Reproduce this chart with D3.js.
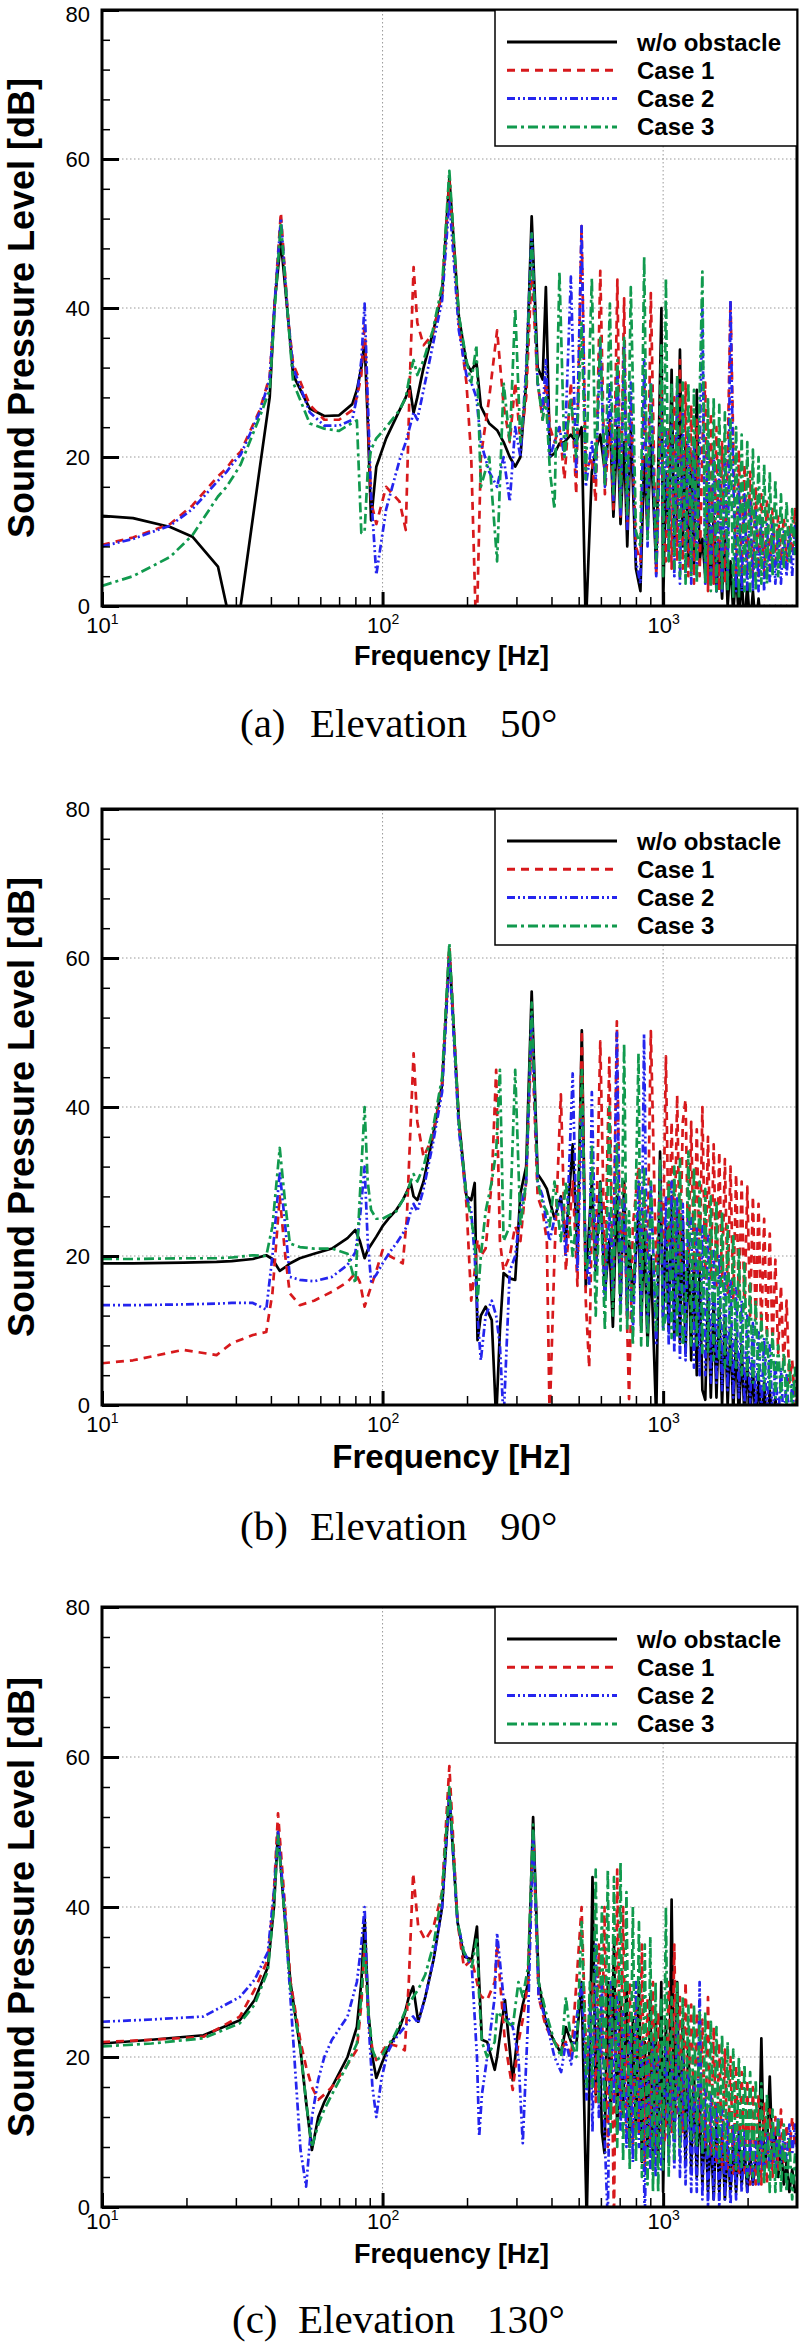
<!DOCTYPE html>
<html>
<head>
<meta charset="utf-8">
<script src="https://cdn.jsdelivr.net/npm/d3@7"></script>
<style>
  body { margin: 0; background: #fff; }
  svg { display: block; }
</style>
</head>
<body>
<div id="chart"></div>
<script>
// ---------- data (Hz, dB) ----------
const hfFreq = [1000, 1023, 1047, 1072, 1096, 1122, 1148, 1175, 1202, 1230,
  1259, 1288, 1318, 1349, 1380, 1413, 1445, 1479, 1514, 1549,
  1585, 1622, 1660, 1698, 1738, 1778, 1820, 1862, 1905, 1950,
  1995, 2042, 2089, 2138, 2188, 2239, 2291, 2344, 2399, 2455,
  2512, 2570, 2630, 2692, 2754, 2818, 2884, 2951, 3000];

// (a) elevation 50
const freqA = [10, 12.9, 17.5, 21, 25.9, 27.8, 29.5, 31.2, 36.5, 39.6,
  41.3, 43.4, 46, 48, 55, 62, 70, 78, 81, 84,
  86.3, 88.5, 91, 95, 103, 115, 121, 125, 129, 133,
  140, 151, 163, 173, 187, 199, 207, 216, 224, 240,
  256, 270, 284, 297, 310, 325, 340, 357, 372, 382,
  395, 410, 427, 445, 469, 490, 512, 530, 557, 575,
  597, 620, 646, 665, 687, 705, 726, 745, 767, 800,
  830, 856, 880, 904, 945, 986].concat(hfFreq);
const noneA = [12.1, 11.8, 10.6, 9.3, 5.3, 0, -8, 0, 18.5, 28,
  41, 49, 38.8, 31, 26.5, 25.5, 25.6, 27.1, 29, 32,
  35.5, 25, 11.5, 18.7, 22.5, 26.3, 28, 29.5, 25.9, 28,
  32, 36.6, 42, 57.5, 38.9, 32.6, 31.5, 32.8, 26.8, 24.5,
  23.6, 22, 20, 18.7, 20, 30, 52.3, 32, 30.4, 42.8,
  20, 20.5, 21.8, 22, 23, 22, 24, -3, 18, 21,
  23, 18, 25, 12, 24, 11, 22, 8, 24, 5,
  2, 20, 10, 22, 5, 40].concat([
  0, 18, 10, 31.7, 9, 12, 34.4, 8, 22, 6,
  20, 5, 29, 6, 9, 4, 14, 3, 12, 2,
  8, 1, 10, 0, 6, -1, 5, -2, 4, -3,
  3, -3, 2, -3, 1, -3, 0, -3, 0, -3,
  0, -3, 0, -3, 0, -3, 0, -3, -3]);
const case1A = [8.2, 9.2, 11, 13.5, 17.4, 18.5, 19.8, 20.7, 26.3, 30.8,
  41, 52.8, 38.8, 32.5, 27, 25, 25, 26.3, 28, 31,
  38, 26, 14, 11, 16, 14, 10.2, 30, 45.5, 38,
  35, 36.5, 42, 57, 38, 30, 20, -5, 20, 28,
  37, 27, 22, 30, 22, 28, 45, 30, 25, 30,
  24, 22, 24, 17, 30, 15, 51, 18, 20, 14,
  45, 15, 25, 13, 43.8, 12, 41.3, 10, 28, 8,
  6, 30, 10, 42, 4, 30].concat([
  10, 6, 24, 5, 28, 6, 33, 5, 30, 4,
  27, 3, 25, 4, 22, 30, 2, 26, 3, 24,
  2, 22, 3, 20, 41, 22, 4, 21, 4, 19,
  4, 18, 4, 16, 4, 15, 4, 14, 5, 13,
  5, 12, 6, 12, 6, 11, 7, 13, 8]);
const case2A = [8.0, 9, 10.8, 13, 16.8, 18, 19.3, 20.3, 26, 30.5,
  41, 52, 38.8, 32, 26, 24.2, 24.2, 25, 28, 33,
  40.6, 28, 15, 4.2, 13, 19.6, 22, 24, 26, 25,
  29, 35, 41, 54.5, 37, 31, 30, 28, 22, 18,
  16, 20, 14, 24, 20, 32, 50, 30, 26, 33,
  20, 22, 24, 20, 44.2, 18, 51, 16, 22, 17,
  35, 16, 30, 14, 32, 12, 35, 10, 30, 6,
  3, 33, 8, 30, 4, 28].concat([
  8, 24, 6, 26, 4, 30, 3, 26, 4, 24,
  3, 22, 4, 20, 40, 3, 22, 3, 20, 2,
  19, 2, 20, 3, 41, 17, 2, 16, 2, 15,
  2, 14, 2, 13, 2, 12, 2, 11, 3, 11,
  3, 10, 3, 10, 4, 10, 4, 11, 7]);
const case3A = [2.7, 4, 6.6, 9.5, 14.7, 16, 17.5, 19, 25.4, 29,
  40, 51.5, 38.8, 30, 24.5, 23.8, 23.5, 24.6, 24.9, 9.8,
  10, 18, 21, 22.5, 24, 26.3, 28, 31, 33, 31,
  33, 37, 43, 58.4, 39, 33, 30, 35, 16, 20,
  6, 30, 22, 40, 22, 30, 50, 30, 25, 28,
  18, 13, 44.9, 20, 28, 20, 38, 17, 44, 18,
  36, 16, 40.6, 15, 33, 13, 36, 12, 42.8, 10,
  8, 46.9, 9, 30, 6, 35].concat([
  4, 44, 6, 30, 5, 31, 4, 30, 3, 30,
  4, 29, 3, 28, 44.9, 3, 28, 2, 28, 2,
  27, 2, 26, 2, 25, 1, 24, 1, 23, 2,
  22, 2, 21, 2, 20, 3, 19, 3, 18, 4,
  17, 4, 15, 5, 14, 6, 13, 7, 12]);

// (b) elevation 90
const freqB = [10, 12.9, 19.5, 25.6, 29, 34.5, 38.5, 40.5, 43, 45,
  46.7, 50.7, 57, 66, 75, 80, 83, 86.3, 88.5, 91,
  95, 100, 106, 112, 118, 122, 126, 129, 133, 140,
  151, 163, 173, 187, 199, 207, 213, 218, 224, 233,
  245, 254, 262, 270, 284, 297, 310, 325, 340, 357,
  372, 385, 394, 410, 432, 450, 476, 495, 513, 530,
  545, 557, 575, 597, 620, 643, 662, 684, 705, 726,
  745, 756, 780, 817, 835, 855, 880, 904, 945, 975].concat(hfFreq);
const noneB = [19.0, 19.0, 19.1, 19.2, 19.3, 19.6, 20.1, 19.6, 18.0, 18.5,
  19, 19.7, 20.3, 21, 22.4, 23.5, 22, 19.7, 20.8, 21.5,
  22.6, 24, 25.2, 26.2, 27.5, 28.6, 29.8, 28, 27.5, 30,
  36, 43, 61, 38.3, 28, 27.5, 29.8, 8.7, 12, 13.2,
  11.4, -2, 10, 17.7, 17, 16.8, 28.4, 32, 55.5, 31,
  30, 29, 27.5, 25, 28, 22, 35, 20, 50.3, 15.9,
  24, 30, 18, 30, 15, 22, 10.5, 28, 14, 30,
  12, 22, 14, 26, 10, 24, 8, 20, -2, 34].concat([
  11.8, 24, 10, 28, 9, 26, 8.3, 25, 7, 22,
  6, 20, 4, 18, 2, 0.7, 15, 1, 14, 1,
  13, 0, 12, 0, 10, -1, 9, -2, 8, -2,
  6, -2, 5, -3, 4, -3, 3, -3, 2, -3,
  1, -3, 0, -3, 0, -3, 0, -3, -3]);
const case1B = [5.6, 6.0, 7.4, 6.7, 8.3, 9.4, 9.8, 15, 28, 20,
  15, 13.4, 14, 15.2, 16.5, 17.7, 16.5, 13.2, 14.5, 15.9,
  18, 20.8, 20, 19.5, 19, 25, 38, 47.2, 38, 33.3,
  36, 43, 61.5, 38, 27, 14, 18, 22.2, 20, 21,
  30, 45, 22, 18, 20, 24, 22, 30, 50, 28,
  26, 22, -2, 20, 41.7, 18, 30, 16, 50.3, 14,
  5, 25, 20, 48.8, 18, 46.6, 15, 51.5, 16, 30,
  10, 0.8, 24, 32, 18, 28, 20, 50.2, 18, 30].concat([
  22, 46.8, 20, 38, 20, 41.6, 19, 38, 41, 19,
  38, 18, 37, 18, 40, 17, 36, 17, 35, 16,
  34, 16, 33, 15, 32, 14, 31, 14, 30, 13,
  29.3, 12, 28, 11, 27, 10, 25, 9, 23, 8,
  19.5, 7, 16, 5, 14, 3, 6, 0, 1]);
const case2B = [13.4, 13.4, 13.5, 13.6, 13.7, 13.7, 12.8, 20, 31.3, 24,
  17.2, 16.8, 16.6, 17.2, 18.8, 20.5, 25, 32, 22, 16.6,
  17.5, 19, 20.5, 21.7, 23, 24, 26, 27, 26, 29,
  35, 42, 60, 37, 28, 26, 20, 12, 6, 12,
  14, 12, 8, -2, 18, 20, 26, 30, 52, 30,
  28, 24, 22, 25, 28, 20, 44.5, 18, 40, 20,
  16, 42, 18, 30, 14, 26, 15, 50, 13, 28,
  12, 20, 10, 30, 12, 49.8, 10, 30, 8, 32].concat([
  10, 28, 8, 30, 7, 28, 6, 27, 6, 26,
  25, 5, 24, 4, 24, 4, 23, 3, 21, 3,
  20, 2, 18, 2, 17, 1, 16, 1, 14, 0,
  12, 0, 11, -1, 10, -1, 9, -2, 8, -2,
  6, -3, 5, -3, 4, -3, 3, -3, -3]);
const case3B = [19.6, 19.6, 19.7, 19.7, 19.8, 20.1, 20, 24, 34.5, 27,
  21.7, 21.2, 21, 21, 20.3, 16.3, 28, 40, 30, 26.2,
  25, 25, 25.5, 26, 27.5, 28.5, 30, 31, 30, 32,
  37, 44, 62, 38, 28, 25, 22, 14, 20, 26,
  30, 34, 45, 22, 24, 45, 24, 30, 54, 30,
  27, 26, 24, 30, 22, 30, 20, 26, 45, 18,
  20, 35, 12, 30, 10, 40, 12, 35, 10, 48.5,
  10, 26, 8, 47.2, 8, 32, 8, 30, 10, 33].concat([
  10, 12, 30, 9, 32, 9, 33, 8, 12, 34,
  8, 32, 8, 30, 7, 29, 7, 28, 6, 27.5,
  6, 26, 5, 24, 5, 23, 5, 21, 4, 19,
  4, 16.3, 3, 14, 3, 12, 2, 10, 2, 9.6,
  1, 8, 1, 7, 0, 6, -1, 5, -2]);

// (c) elevation 130
const freqC = [10, 15, 23, 31, 35, 39, 41, 42.4, 44.5, 47,
  51, 53.4, 56, 59, 62, 66, 75, 81, 84, 86.3,
  89, 92, 95, 99, 104, 109, 114, 120, 124, 128.5,
  134, 142, 152, 163, 173, 185, 195, 208, 217, 221,
  226, 236, 251, 256, 273, 291, 305, 316, 330, 344,
  360, 382, 410, 433, 450, 470, 491, 512, 534, 548,
  560, 575, 590, 605, 618, 635, 650, 668, 686, 705,
  720, 740, 760, 780, 800, 820, 840, 860, 880, 900,
  920, 940, 960, 985].concat(hfFreq);
const noneC = [21.8, 22.3, 22.9, 24.9, 27.6, 32, 40, 50, 40, 29.8,
  20.9, 14, 7.6, 12, 14, 16, 20, 24, 30, 38.5,
  26, 20, 17.2, 19, 21, 22.3, 23.5, 25.8, 28, 29.4,
  24.7, 28, 33, 40, 55, 38, 33.4, 33, 37.4, 30,
  22.3, 22, 18.3, 20, 27.6, 16.9, 24, 27, 29.8, 52,
  30, 24.5, 22, 20.5, 24, 22, 21.8, 30, -2, 20,
  44, 15, 25, 10, 7.2, 30, 12, 35, 10, 28,
  12, 30, 8, 25, 10, 30, 6, 22, 8, 28,
  5, 25, 6, 30].concat([
  2, 25, 8, 41, 10, 30, 8, 25, 6, 22,
  5, 18, 4, 15, 3, 12, 2, 10, 1, 12,
  2, 10, 1, 8, 2, 9, 2, 10, 3, 8,
  2, 7, 3, 6, 4, 22.5, 5, 8, 17.4, 6,
  10, 4, 8, 3, 6, 2, 5, 2, 2]);
const case1C = [22, 22.3, 22.7, 25.4, 29, 33, 42, 52.5, 42, 30,
  22, 18.7, 16, 14.3, 15, 16, 19, 21, 27, 35,
  25, 21, 19.6, 20.5, 21.8, 21.6, 21.4, 20.9, 30, 44.5,
  37.4, 35.6, 37.4, 42, 58.8, 38, 32, 33, 30, 28.5,
  28, 27.6, 30, 35, 22, 15.6, 22, 25, 30, 50,
  28, 24, 22, 21, 22, 20, 30, 40, 18, 25,
  30, 14, 35, 20, 40, 8, 30, -2, 45, 12,
  40, 10, 30, 8, 28, 10, 35, 5, 28, 8,
  30, 6, 26, 10].concat([
  8, 10, 30, 10, 35, 12, 28, 10, 30, 14,
  27, 12, 26, 10, 25, 8, 28, 7, 24, 6,
  22, 5, 21, 5, 20, 4, 19, 4, 18, 4,
  17, 3, 16, 3, 15, 3, 14, 3, 13, 4,
  12, 5, 13, 6, 11, 7, 12, 8, 10]);
const case2C = [24.7, 25, 25.4, 28, 30.3, 34, 42, 50, 41, 27.6,
  7.6, 2.7, 12, 17, 20, 22.3, 25.4, 30, 35, 40,
  25, 16, 12, 17, 20.5, 22, 23, 24, 24.8, 25.4,
  24.5, 28, 33, 40, 55, 38, 34, 32, 20, 9.4,
  15, 20, 28, 36.5, 26, 24, 20, 8.5, 25, 50,
  28, 25, 20, 18, 22, 19, 25, 30, 14, 28,
  10, 35, 12, 30, 10, -2, 30, 14, 28, 10,
  26, 8, 24, 6, 30, 8, 22, -2, 20, 5,
  22, 4, 20, 5].concat([
  10, 22, 6, 20, 5, 25, 4, 20, 3, 18,
  2, 16, 2, 30, 1, 16, 0, 15, 1, 14,
  0, 13, 1, 12, 0, 11, 1, 10, 2, 10,
  2, 9, 3, 9, 3, 10, 4, 10, 5, 11,
  5, 12, 6, 10, 6, 11, 7, 11, 8]);
const case3C = [21.4, 21.8, 22.5, 24.5, 27, 31.5, 40, 49.5, 40, 29,
  21, 14, 8, 11, 13, 15, 19, 21.8, 28, 35,
  26, 21, 19.6, 20, 21.5, 22.5, 24, 26, 27, 28,
  29, 31, 35, 42, 56, 38, 34, 32, 36, 28,
  22, 20, 22, 26, 25, 24, 30, 28, 32, 51,
  30, 26, 22, 20, 28, 22, 20, 38, 16, 30,
  16, 45, 14, 40, 12, 45, 10, 44, 8, 46,
  6, 42, 5, 40, 6, 38, 4, 35, 3, 36,
  2, 30, 2, 28].concat([
  5, 40, 4, 28, 6, 30, 8, 28, 10, 27,
  9, 27, 8, 26, 7, 26, 7, 25, 7, 24,
  6, 23, 6, 22, 5, 21, 5, 20, 5, 19,
  4, 18, 4, 17, 3, 16.5, 3, 15, 2, 13,
  2, 12, 2, 11, 2, 9, 1, 7, 3]);

const seriesNames = ["w/o obstacle", "Case 1", "Case 2", "Case 3"];
const seriesColors = ["#000000", "#d7191c", "#2525ee", "#119a4e"];
const seriesDash = [null, "8 6", "8 3 2 3 2 3", "10 4 3 4"];

const xMajor = [10, 100, 1000];
const xExp = ["1", "2", "3"];
const xMinor = [20, 30, 40, 50, 60, 70, 80, 90, 200, 300, 400, 500, 600, 700, 800, 900, 2000];
const yMajor = [0, 20, 40, 60, 80];
const yMinor = [4, 8, 12, 16, 24, 28, 32, 36, 44, 48, 52, 56, 64, 68, 72, 76];

const panels = [
  { freq: freqA, series: [noneA, case1A, case2A, case3A], top: 10, bottom: 606,
    xLabelY: 665, xLabelSize: 27, tickDy: 27, caption: ["(a)", "Elevation", "50°"], capX: [240, 310, 500], capY: 737 },
  { freq: freqB, series: [noneB, case1B, case2B, case3B], top: 809, bottom: 1405,
    xLabelY: 1468, xLabelSize: 33, tickDy: 27, caption: ["(b)", "Elevation", "90°"], capX: [240, 310, 500], capY: 1540 },
  { freq: freqC, series: [noneC, case1C, case2C, case3C], top: 1607, bottom: 2207,
    xLabelY: 2263, xLabelSize: 27, tickDy: 22, caption: ["(c)", "Elevation", "130°"], capX: [232, 298, 487], capY: 2333 }
];

// ---------- drawing ----------
const width = 800, height = 2344;
const left = 102, right = 797;
const sans = "'Liberation Sans', Arial, Helvetica, sans-serif";

const svg = d3.select("#chart")
  .append("svg")
  .attr("width", width)
  .attr("height", height)
  .attr("viewBox", [0, 0, width, height])
  .style("font-family", sans);

panels.forEach((p, pi) => {
  p.series.forEach((s, si) => {
    if (s.length !== p.freq.length) throw new Error(`panel ${pi} series ${si}: ${s.length} vs ${p.freq.length}`);
  });

  const x = d3.scaleLog().domain([10, 3000]).range([left, right]);
  const y = d3.scaleLinear().domain([0, 80]).range([p.bottom, p.top]);
  const g = svg.append("g");

  // grid
  g.append("g").selectAll("line").data([20, 40, 60]).join("line")
    .attr("x1", left).attr("x2", right)
    .attr("y1", d => y(d)).attr("y2", d => y(d))
    .attr("stroke", "#999").attr("stroke-width", 1).attr("stroke-dasharray", "1.5 2.5");
  g.append("g").selectAll("line").data([100, 1000]).join("line")
    .attr("x1", d => x(d)).attr("x2", d => x(d))
    .attr("y1", p.top).attr("y2", p.bottom)
    .attr("stroke", "#999").attr("stroke-width", 1).attr("stroke-dasharray", "1.5 2.5");

  // curves
  const clipId = "clip" + pi;
  g.append("clipPath").attr("id", clipId)
    .append("rect").attr("x", left).attr("y", p.top)
    .attr("width", right - left).attr("height", p.bottom - p.top);

  const line = d3.line().x(d => x(d[0])).y(d => y(d[1]));
  g.append("g").attr("clip-path", `url(#${clipId})`)
    .selectAll("path")
    .data(p.series.map(s => s.map((v, i) => [p.freq[i], v])))
    .join("path")
      .attr("d", line)
      .attr("fill", "none")
      .attr("stroke", (d, i) => seriesColors[i])
      .attr("stroke-width", 2.7)
      .attr("stroke-linejoin", "round")
      .attr("stroke-dasharray", (d, i) => seriesDash[i]);

  // y axis
  const yAxis = g.append("g").attr("transform", `translate(${left},0)`)
    .call(d3.axisLeft(y).tickValues(yMajor).tickSize(-17).tickPadding(12));
  yAxis.select(".domain").remove();
  yAxis.selectAll(".tick line").attr("stroke-width", 3);
  yAxis.selectAll(".tick text").attr("font-size", 22).attr("font-family", sans).attr("fill", "#000");
  // keep the top label of the first panel inside the page
  if (pi === 0) yAxis.selectAll(".tick text").filter(d => d === 80).attr("y", 4);
  g.append("g").attr("transform", `translate(${left},0)`)
    .call(d3.axisLeft(y).tickValues(yMinor).tickSize(-8).tickFormat(""))
    .call(a => a.select(".domain").remove())
    .selectAll(".tick line").attr("stroke-width", 1.5);

  // x axis
  const xAxis = g.append("g").attr("transform", `translate(0,${p.bottom})`)
    .call(d3.axisBottom(x).tickValues(xMajor).tickSize(-14).tickFormat(""));
  xAxis.select(".domain").remove();
  xAxis.selectAll(".tick line").attr("stroke-width", 3);
  xAxis.selectAll(".tick").append("text")
    .attr("y", p.tickDy).attr("text-anchor", "middle")
    .attr("fill", "#000").attr("font-size", 22).attr("font-family", sans)
    .each(function(d, i) {
      const t = d3.select(this);
      t.append("tspan").text("10");
      t.append("tspan").attr("dy", -9).attr("font-size", 14).text(xExp[i]);
    });
  g.append("g").attr("transform", `translate(0,${p.bottom})`)
    .call(d3.axisBottom(x).tickValues(xMinor).tickSize(-9).tickFormat(""))
    .call(a => a.select(".domain").remove())
    .selectAll(".tick line").attr("stroke-width", 1.5);

  // frame
  g.append("rect")
    .attr("x", left).attr("y", p.top)
    .attr("width", right - left).attr("height", p.bottom - p.top)
    .attr("fill", "none").attr("stroke", "#000").attr("stroke-width", 3);

  // legend
  const lg = g.append("g").attr("transform", `translate(495,${p.top})`);
  lg.append("rect").attr("width", 302).attr("height", 136)
    .attr("fill", "#fff").attr("stroke", "#000").attr("stroke-width", 1.5);
  const item = lg.selectAll("g.item").data(seriesNames).join("g")
    .attr("class", "item")
    .attr("transform", (d, i) => `translate(0,${32 + i * 28.3})`);
  item.append("line")
    .attr("x1", 12).attr("x2", 122)
    .attr("stroke", (d, i) => seriesColors[i])
    .attr("stroke-width", 3)
    .attr("stroke-dasharray", (d, i) => seriesDash[i]);
  item.append("text")
    .attr("x", 142).attr("y", 8.5)
    .attr("font-size", 24).attr("font-weight", "bold")
    .text(d => d);

  // labels
  g.append("text")
    .attr("x", (left + right) / 2 + 2).attr("y", p.xLabelY)
    .attr("text-anchor", "middle")
    .attr("font-size", p.xLabelSize).attr("font-weight", "bold")
    .text("Frequency [Hz]");
  g.append("text")
    .attr("transform", `translate(34,${(p.top + p.bottom) / 2}) rotate(-90)`)
    .attr("text-anchor", "middle")
    .attr("font-size", 36).attr("font-weight", "bold")
    .text("Sound Pressure Level [dB]");
  g.append("g").selectAll("text").data(p.caption).join("text")
    .attr("x", (d, i) => p.capX[i]).attr("y", p.capY)
    .attr("font-family", "'Liberation Serif', 'Times New Roman', serif")
    .attr("font-size", 41)
    .text(d => d);
});
</script>
</body>
</html>
